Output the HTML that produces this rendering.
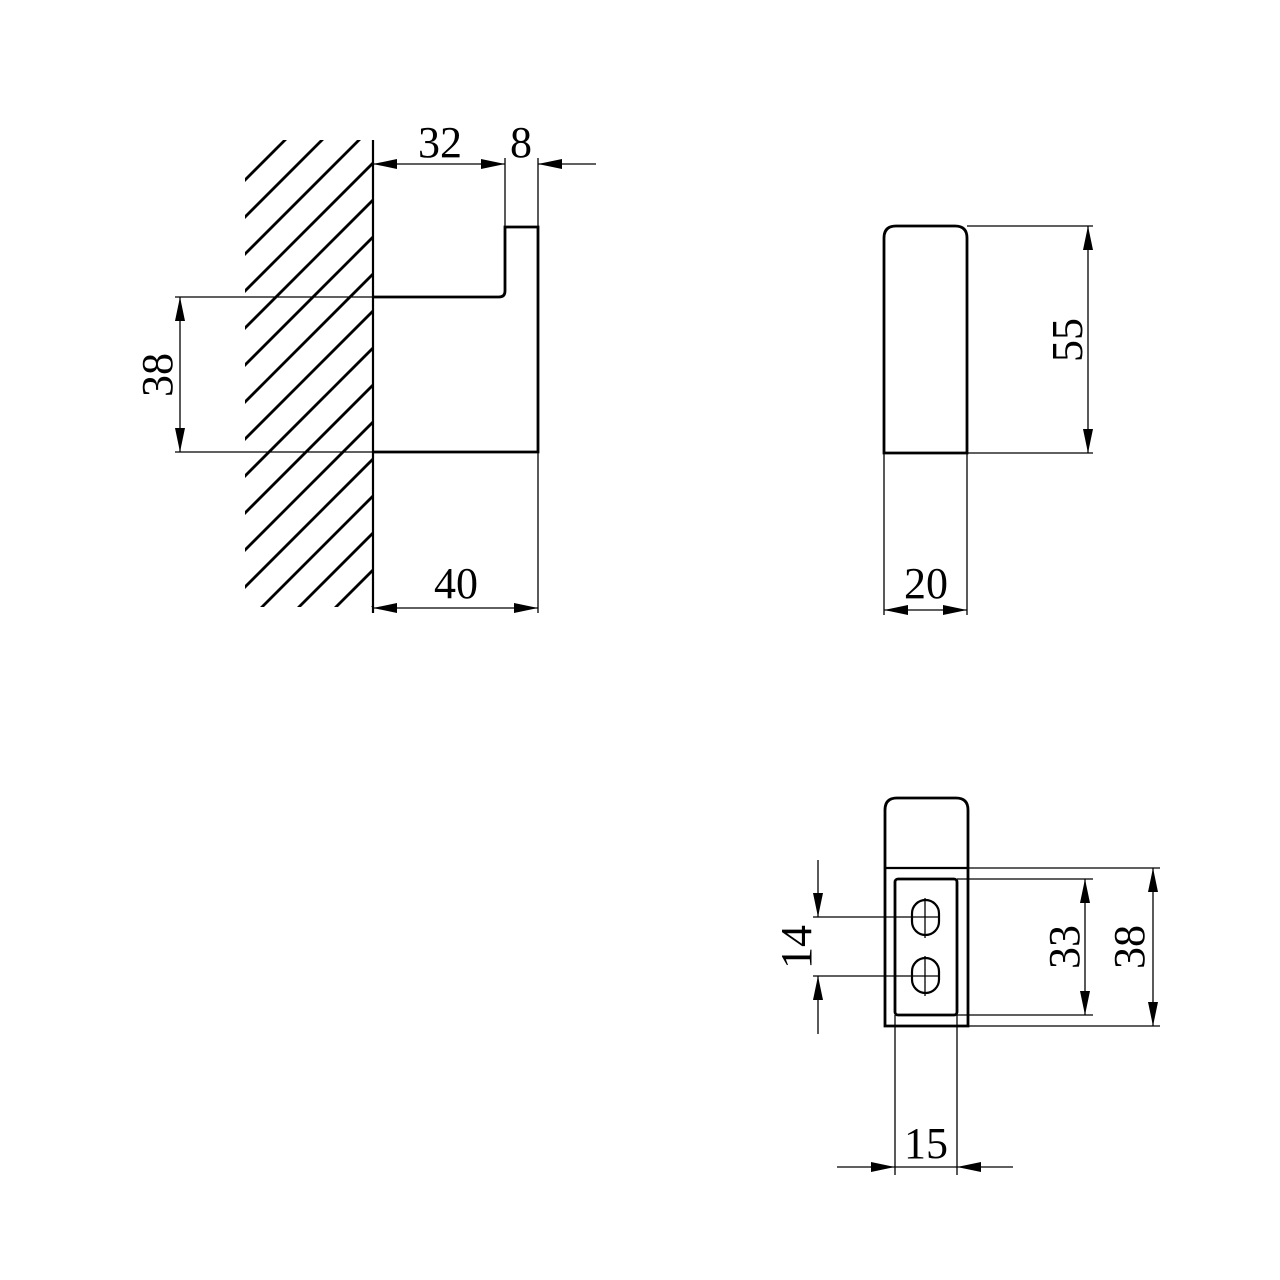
<!DOCTYPE html>
<html><head><meta charset="utf-8"><style>html,body{margin:0;padding:0;background:#fff}svg{display:block}</style></head><body>
<svg width="1280" height="1280" viewBox="0 0 1280 1280" xmlns="http://www.w3.org/2000/svg">
<defs>
<clipPath id="hc"><rect x="245" y="140" width="127" height="467"/></clipPath>
</defs>
<g clip-path="url(#hc)" stroke="#000" stroke-width="2.8">
<line x1="0" y1="425" x2="425" y2="0"/><line x1="0" y1="462" x2="462" y2="0"/><line x1="0" y1="499" x2="499" y2="0"/><line x1="0" y1="536" x2="536" y2="0"/><line x1="0" y1="573" x2="573" y2="0"/><line x1="0" y1="610" x2="610" y2="0"/><line x1="0" y1="647" x2="647" y2="0"/><line x1="0" y1="684" x2="684" y2="0"/><line x1="0" y1="721" x2="721" y2="0"/><line x1="0" y1="758" x2="758" y2="0"/><line x1="0" y1="795" x2="795" y2="0"/><line x1="0" y1="832" x2="832" y2="0"/><line x1="0" y1="869" x2="869" y2="0"/><line x1="0" y1="906" x2="906" y2="0"/><line x1="0" y1="943" x2="943" y2="0"/><line x1="0" y1="980" x2="980" y2="0"/><line x1="0" y1="1017" x2="1017" y2="0"/><line x1="0" y1="1054" x2="1054" y2="0"/><line x1="0" y1="1091" x2="1091" y2="0"/><line x1="0" y1="1128" x2="1128" y2="0"/>
</g>
<g fill="none" stroke="#000">
<line x1="373" y1="140" x2="373" y2="613" stroke-width="2.2"/>
<path d="M373 297 H499 Q505 297 505 291 V227 H538 V452 H373" stroke-width="2.8"/>
<g stroke-width="1.3">
<line x1="505" y1="158" x2="505" y2="227"/><line x1="538" y1="158" x2="538" y2="227"/>
<line x1="373" y1="164" x2="505" y2="164"/><line x1="538" y1="164" x2="596" y2="164"/>
<line x1="175" y1="297" x2="373" y2="297"/><line x1="175" y1="452" x2="373" y2="452"/>
<line x1="180" y1="297" x2="180" y2="452"/>
<line x1="538" y1="452" x2="538" y2="613"/><line x1="373" y1="608" x2="538" y2="608"/>
</g>
<path d="M884 453 V238 Q884 226 896 226 H955 Q967 226 967 238 V453 Z" stroke-width="2.8"/>
<g stroke-width="1.3">
<line x1="967" y1="226" x2="1093" y2="226"/><line x1="967" y1="453" x2="1093" y2="453"/>
<line x1="1088" y1="226" x2="1088" y2="453"/>
<line x1="884" y1="453" x2="884" y2="615"/><line x1="967" y1="453" x2="967" y2="615"/>
<line x1="884" y1="610" x2="967" y2="610"/>
</g>
<path d="M885 1026 V810 Q885 798 897 798 H956 Q968 798 968 810 V1026 Z" stroke-width="2.8"/>
<line x1="885" y1="868" x2="968" y2="868" stroke-width="2.2"/>
<rect x="895" y="879" width="62" height="136" rx="3" stroke-width="2.8"/>
<rect x="912" y="900" width="27" height="35" rx="13.5" stroke-width="2.2"/>
<rect x="912" y="958" width="27" height="35" rx="13.5" stroke-width="2.2"/>
<g stroke-width="1.3">
<line x1="925" y1="898" x2="925" y2="938"/><line x1="925" y1="956" x2="925" y2="996"/>
<line x1="813" y1="917" x2="940" y2="917"/><line x1="813" y1="976" x2="940" y2="976"/>
<line x1="818" y1="860" x2="818" y2="917"/><line x1="818" y1="976" x2="818" y2="1034"/>
<line x1="957" y1="879" x2="1093" y2="879"/><line x1="957" y1="1015" x2="1093" y2="1015"/>
<line x1="1085" y1="879" x2="1085" y2="1015"/>
<line x1="968" y1="868" x2="1160" y2="868"/><line x1="968" y1="1026" x2="1160" y2="1026"/>
<line x1="1153" y1="868" x2="1153" y2="1026"/>
<line x1="895" y1="1015" x2="895" y2="1175"/><line x1="957" y1="1015" x2="957" y2="1175"/>
<line x1="837" y1="1167" x2="1013" y2="1167"/>
</g>
</g>
<g fill="#000">
<path d="M373 164 l24 -5 v10 z"/><path d="M505 164 l-24 -5 v10 z"/><path d="M538 164 l24 -5 v10 z"/>
<path d="M180 297 l-5 24 h10 z"/><path d="M180 452 l-5 -24 h10 z"/>
<path d="M373 608 l24 -5 v10 z"/><path d="M538 608 l-24 -5 v10 z"/>
<path d="M1088 226 l-5 24 h10 z"/><path d="M1088 453 l-5 -24 h10 z"/>
<path d="M884 610 l24 -5 v10 z"/><path d="M967 610 l-24 -5 v10 z"/>
<path d="M818 917 l-5 -24 h10 z"/><path d="M818 976 l-5 24 h10 z"/>
<path d="M1085 879 l-5 24 h10 z"/><path d="M1085 1015 l-5 -24 h10 z"/>
<path d="M1153 868 l-5 24 h10 z"/><path d="M1153 1026 l-5 -24 h10 z"/>
<path d="M895 1167 l-24 -5 v10 z"/><path d="M957 1167 l24 -5 v10 z"/>
</g>
<g font-family="Liberation Serif, serif" font-size="44" text-anchor="middle" fill="#000">
<text x="440" y="157">32</text>
<text x="521" y="157">8</text>
<text x="456" y="598">40</text>
<text x="926" y="598">20</text>
<text x="926" y="1158">15</text>
<text transform="translate(172,375) rotate(-90)">38</text>
<text transform="translate(1082,340) rotate(-90)">55</text>
<text transform="translate(811,947) rotate(-90)">14</text>
<text transform="translate(1079,947) rotate(-90)">33</text>
<text transform="translate(1144,947) rotate(-90)">38</text>
</g>
</svg>
</body></html>
